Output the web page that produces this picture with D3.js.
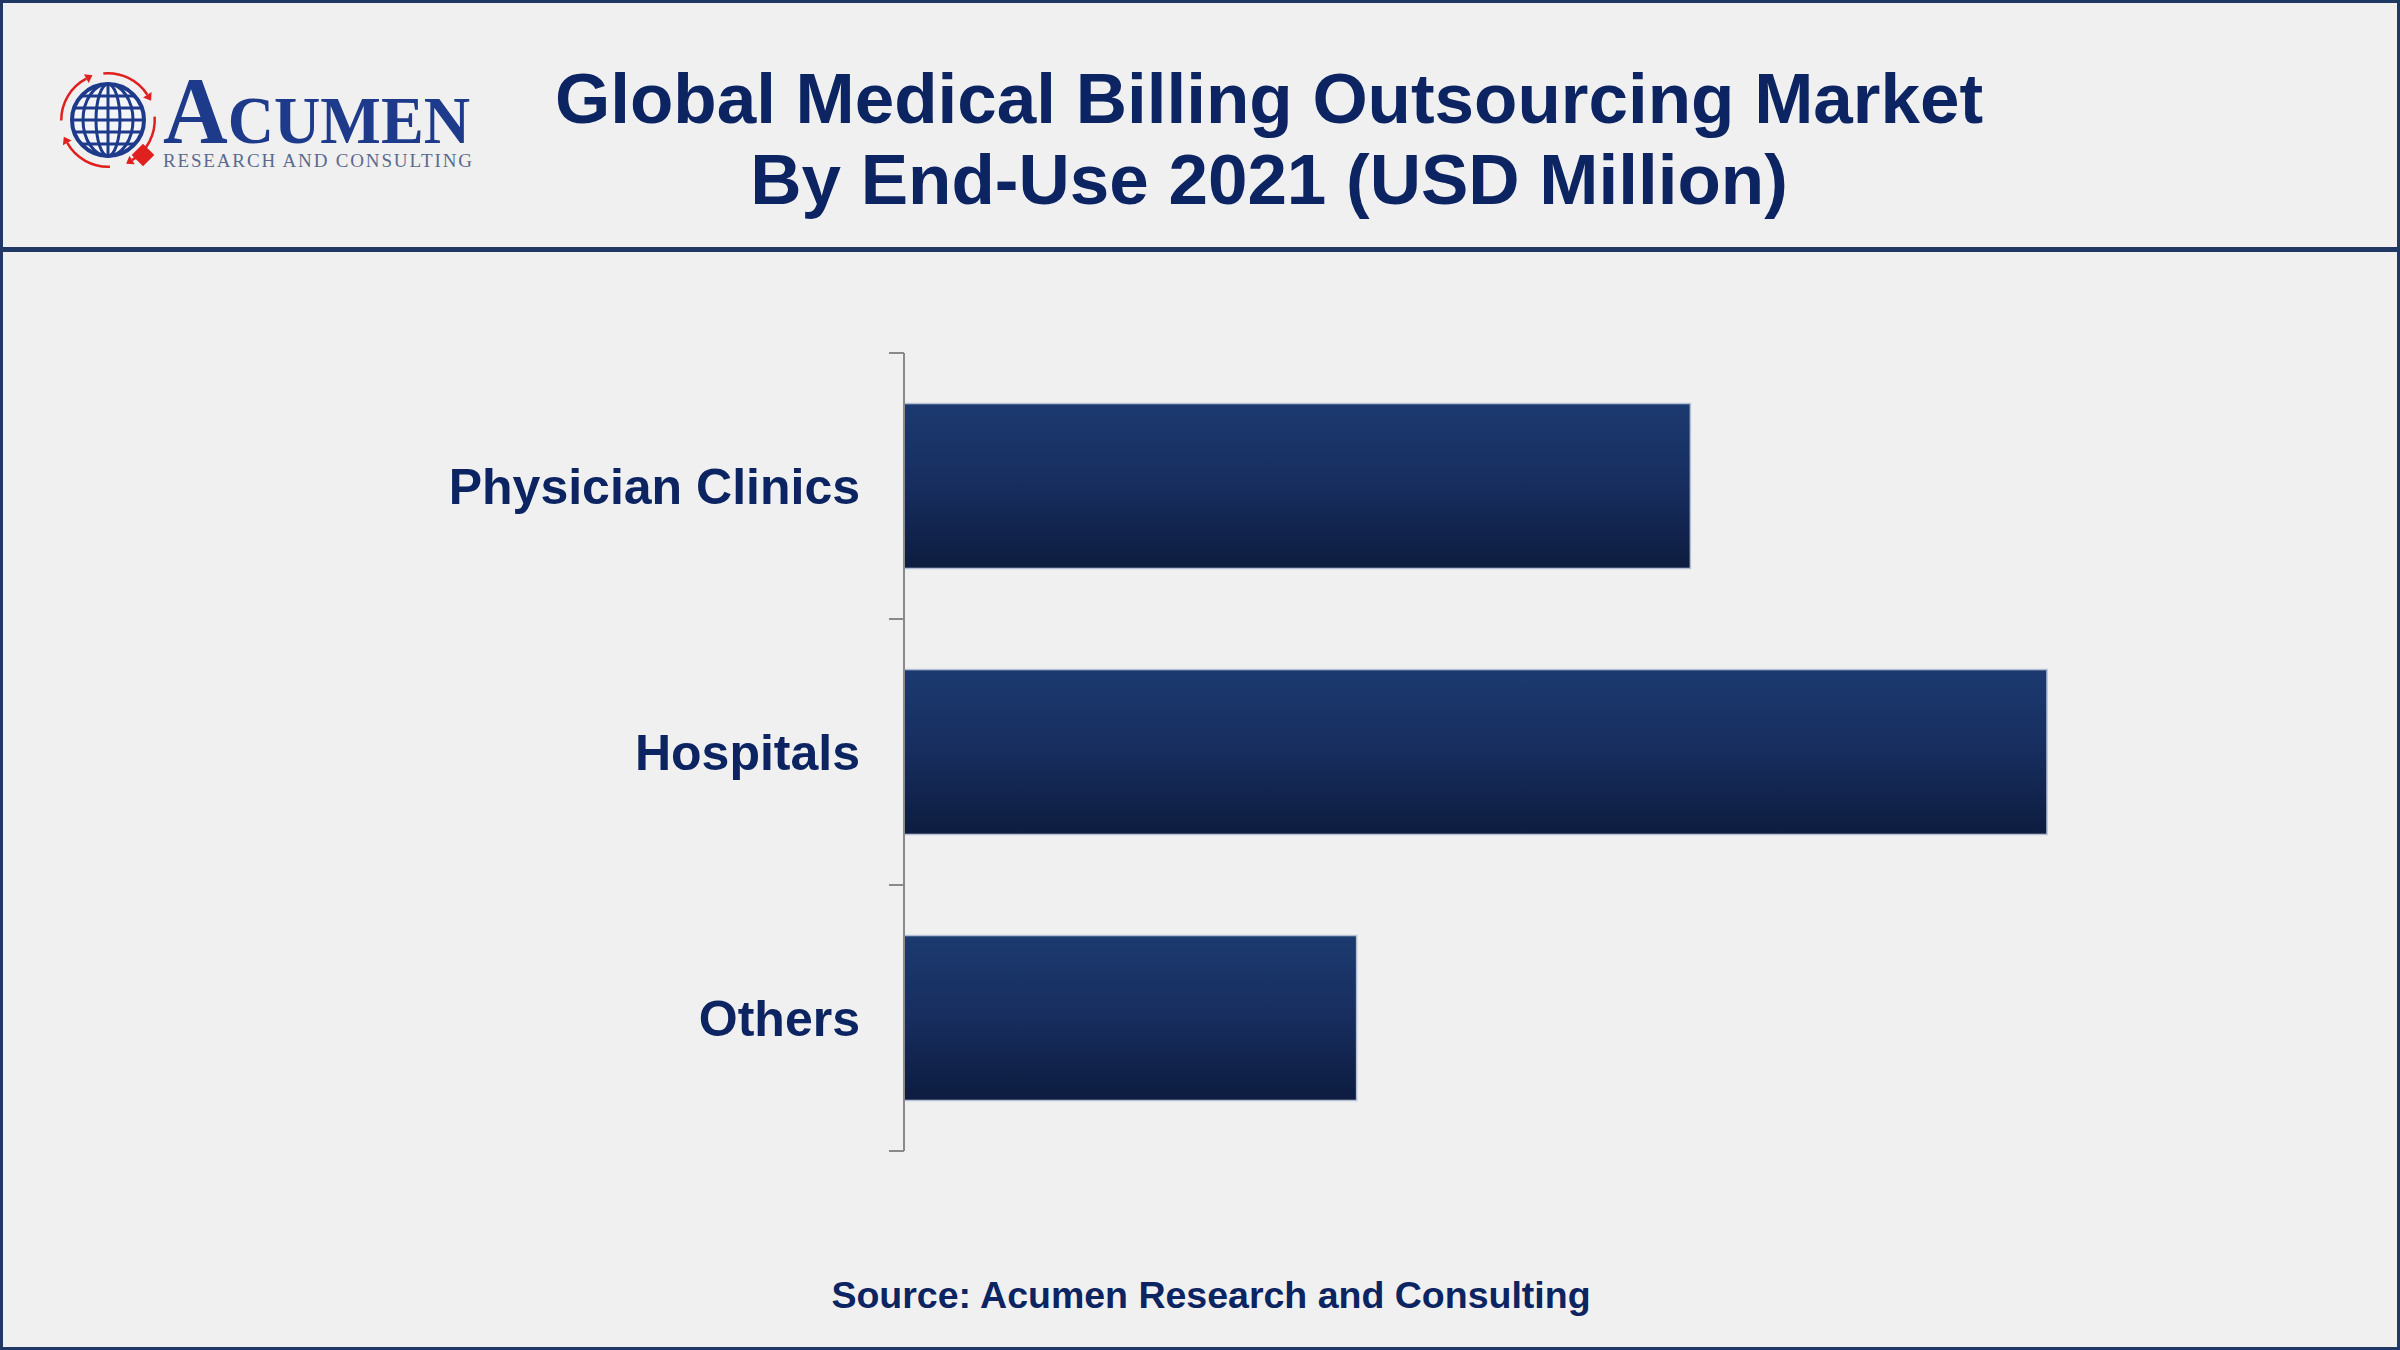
<!DOCTYPE html>
<html>
<head>
<meta charset="utf-8">
<script src="https://cdn.jsdelivr.net/npm/d3@7"></script>
<style>
  html, body { margin: 0; padding: 0; background: #f0f0f0; }
  svg { display: block; }
</style>
</head>
<body>
<svg id="chart" width="2400" height="1350"></svg>
<script>
// ---- data ----
const categories = ["Physician Clinics", "Hospitals", "Others"];
const values = [3440, 5000, 1980];
const titleLines = ["Global Medical Billing Outsourcing Market", "By End-Use 2021 (USD Million)"];
const sourceText = "Source: Acumen Research and Consulting";

const W = 2400, H = 1350;
const navy = "#1f3864";
const textColor = "#0c2461";
const svg = d3.select("#chart");

// background + border
svg.append("rect").attr("x", 1.5).attr("y", 1.5).attr("width", W - 3).attr("height", H - 3)
  .attr("fill", "#f0f0f0").attr("stroke", navy).attr("stroke-width", 3);
// header separator
svg.append("line").attr("x1", 0).attr("x2", W).attr("y1", 249.5).attr("y2", 249.5)
  .attr("stroke", navy).attr("stroke-width", 5);

// gradient for bars
const defs = svg.append("defs");
const grad = defs.append("linearGradient").attr("id", "barGrad")
  .attr("x1", 0).attr("y1", 0).attr("x2", 0).attr("y2", 1);
grad.append("stop").attr("offset", "0%").attr("stop-color", "#1c3a70");
grad.append("stop").attr("offset", "50%").attr("stop-color", "#172d5e");
grad.append("stop").attr("offset", "100%").attr("stop-color", "#0d1c3f");

// ---- logo ----
const logo = svg.append("g");
const gc = { x: 108, y: 120 };
const blue = "#1e3a8a";
const red = "#e0201f";
// red arrows ring
const arcGen = d3.arc().innerRadius(45.5).outerRadius(48);
[[-0.1, 1.0], [1.5, 2.6], [3.1, 4.2], [4.7, 5.8]].forEach(([a0, a1]) => {
  logo.append("path").attr("d", arcGen({ startAngle: a0, endAngle: a1 }))
    .attr("transform", `translate(${gc.x},${gc.y})`).attr("fill", red);
  const ang = a1;
  const px = gc.x + 46.75 * Math.sin(ang), py = gc.y - 46.75 * Math.cos(ang);
  const tx = Math.cos(ang), ty = Math.sin(ang);
  const nx = Math.sin(ang), ny = -Math.cos(ang);
  logo.append("path")
    .attr("d", `M${px + tx * 7},${py + ty * 7} L${px + nx * 5},${py + ny * 5} L${px - nx * 5},${py - ny * 5} Z`)
    .attr("fill", red);
});
// globe
logo.append("circle").attr("cx", gc.x).attr("cy", gc.y).attr("r", 36)
  .attr("fill", "#f4f5f8").attr("stroke", blue).attr("stroke-width", 4);
[12, 25].forEach(rx => logo.append("ellipse").attr("cx", gc.x).attr("cy", gc.y)
  .attr("rx", rx).attr("ry", 36).attr("fill", "none").attr("stroke", blue).attr("stroke-width", 3));
logo.append("line").attr("x1", gc.x).attr("x2", gc.x).attr("y1", gc.y - 36).attr("y2", gc.y + 36)
  .attr("stroke", blue).attr("stroke-width", 3);
[-24, -12, 0, 12, 24].forEach(dy => {
  const half = Math.sqrt(36 * 36 - dy * dy);
  logo.append("line").attr("x1", gc.x - half).attr("x2", gc.x + half)
    .attr("y1", gc.y + dy).attr("y2", gc.y + dy).attr("stroke", blue).attr("stroke-width", 3);
});
// red diamond
logo.append("rect").attr("x", -8).attr("y", -8).attr("width", 16).attr("height", 16)
  .attr("transform", "translate(143,155) rotate(45)").attr("fill", red);
// ACUMEN wordmark
const word = logo.append("text").attr("x", 163).attr("y", 143)
  .attr("font-family", "'Liberation Serif', 'Times New Roman', serif").attr("font-weight", "bold")
  .attr("fill", blue).attr("textLength", 307).attr("lengthAdjust", "spacingAndGlyphs");
word.append("tspan").attr("font-size", 95).text("A");
word.append("tspan").attr("font-size", 68).text("CUMEN");
logo.append("text").attr("x", 163).attr("y", 167)
  .attr("font-family", "'Liberation Serif', 'Times New Roman', serif")
  .attr("font-size", 19).attr("fill", "#5a6a8e")
  .attr("textLength", 309).attr("lengthAdjust", "spacing")
  .text("RESEARCH AND CONSULTING");

// ---- title ----
const titleY = [123, 204];
titleLines.forEach((t, i) => {
  svg.append("text").attr("x", 1269).attr("y", titleY[i])
    .attr("text-anchor", "middle")
    .attr("font-family", "'Liberation Sans', Arial, sans-serif")
    .attr("font-weight", "bold").attr("font-size", 71)
    .attr("fill", textColor).text(t);
});

// ---- chart ----
const y = d3.scaleBand().domain(categories).range([353, 1151])
  .paddingInner(0.38).paddingOuter(0.19);
const x = d3.scaleLinear().domain([0, 5000]).range([904, 2047]);

const data = categories.map((c, i) => ({ c, v: values[i] }));

svg.append("g").selectAll("rect").data(data).join("rect")
  .attr("x", x(0))
  .attr("y", d => y(d.c))
  .attr("width", d => x(d.v) - x(0))
  .attr("height", y.bandwidth())
  .attr("fill", "url(#barGrad)")
  .attr("stroke", "#b4bfd4").attr("stroke-width", 1.5);

// axis line with boundary ticks
const axisG = svg.append("g");
const r = y.range();
axisG.append("line").attr("x1", x(0)).attr("x2", x(0)).attr("y1", r[0]).attr("y2", r[1])
  .attr("stroke", "#8a8a8a").attr("stroke-width", 2);
d3.range(categories.length + 1).forEach(i => {
  const ty = r[0] + i * y.step();
  axisG.append("line").attr("x1", x(0) - 15).attr("x2", x(0)).attr("y1", ty).attr("y2", ty)
    .attr("stroke", "#8a8a8a").attr("stroke-width", 2);
});

// category labels
svg.append("g").selectAll("text").data(data).join("text")
  .attr("x", 860)
  .attr("y", d => y(d.c) + y.bandwidth() / 2)
  .attr("dy", "0.35em")
  .attr("text-anchor", "end")
  .attr("font-family", "'Liberation Sans', Arial, sans-serif")
  .attr("font-weight", "bold").attr("font-size", 50)
  .attr("fill", textColor)
  .text(d => d.c);

// source
svg.append("text").attr("x", 1211).attr("y", 1308)
  .attr("text-anchor", "middle")
  .attr("font-family", "'Liberation Sans', Arial, sans-serif")
  .attr("font-weight", "bold").attr("font-size", 37.5)
  .attr("fill", textColor).text(sourceText);
</script>
</body>
</html>
